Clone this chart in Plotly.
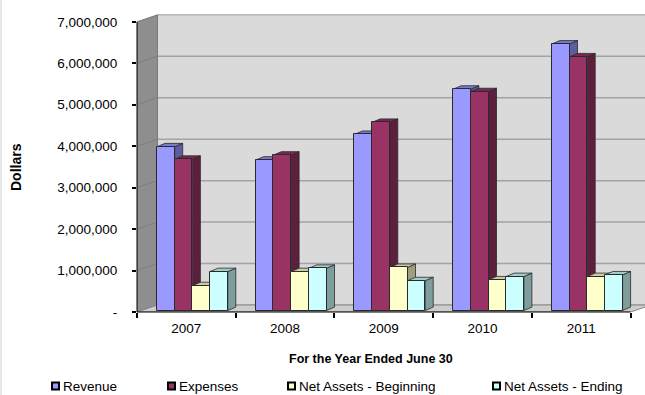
import plotly.graph_objects as go

# ---- data -----------------------------------------------------------------
years = ["2007", "2008", "2009", "2010", "2011"]
revenue = [3_950_000, 3_630_000, 4_250_000, 5_340_000, 6_430_000]
expenses = [3_650_000, 3_750_000, 4_540_000, 5_280_000, 6_120_000]
net_assets_beginning = [600_000, 940_000, 1_040_000, 740_000, 820_000]
net_assets_ending = [940_000, 1_020_000, 720_000, 820_000, 860_000]

series_names = ["Revenue", "Expenses", "Net Assets - Beginning", "Net Assets - Ending"]
series_values = [revenue, expenses, net_assets_beginning, net_assets_ending]
series_colors = ["#9999FF", "#993366", "#FFFFCC", "#CCFFFF"]

y_tick_values = [0, 1_000_000, 2_000_000, 3_000_000, 4_000_000, 5_000_000, 6_000_000, 7_000_000]
y_tick_labels = ["-", "1,000,000", "2,000,000", "3,000,000", "4,000,000",
                 "5,000,000", "6,000,000", "7,000,000"]

# ---- page geometry (pixels) ------------------------------------------------
FIG_W, FIG_H = 645, 395
PLOT_L, PLOT_T, PLOT_B = 137, 10, 312
CAT_PX = 98.7                 # width of one year slot
PX_PER_DOLLAR = 41.45 / 1e6   # vertical scale

x_range = [-0.5, -0.5 + (FIG_W - PLOT_L) / CAT_PX]
y_range = [0, (PLOT_B - PLOT_T) / PX_PER_DOLLAR]


def ux(px):
    return px / CAT_PX


def uy(px):
    return px / PX_PER_DOLLAR


def paper_x(px):
    return (px - PLOT_L) / (FIG_W - PLOT_L)


def paper_y(py):
    return (PLOT_B - py) / (PLOT_B - PLOT_T)


def shade(hex_color, f):
    h = hex_color.lstrip("#")
    r, g, b = (int(h[i:i + 2], 16) for i in (0, 2, 4))
    return "#%02x%02x%02x" % (int(r * f), int(g * f), int(b * f))


# pseudo-3D depth offsets
WDX, WDY = ux(20.5), uy(7)      # back wall behind the front axis
BDX, BDY = ux(8), uy(3.4)       # depth of each column
LIFT = uy(1.5)                  # columns stand slightly behind the front edge
GROUP_START = ux(20) - 0.5
BAR_W = ux(17.7)
N = len(years)
top_val = y_tick_values[-1]
x_far = x_range[1] + 0.5


def poly(pts):
    return "M" + " L".join(f"{x:.5f},{y:.2f}" for x, y in pts) + " Z"


shapes = []

# back wall
shapes.append(dict(type="path", xref="x", yref="y", layer="below",
                   path=poly([(-0.5 + WDX, WDY), (x_far, WDY), (x_far, top_val + WDY),
                              (-0.5 + WDX, top_val + WDY)]),
                   fillcolor="#dadada", line=dict(color="#9a9a9a", width=1)))
# back wall gridlines
for v in y_tick_values[1:-1]:
    shapes.append(dict(type="line", xref="x", yref="y", layer="below",
                       x0=-0.5 + WDX, x1=x_far, y0=v + WDY, y1=v + WDY,
                       line=dict(color="#a3a3a3", width=1.5)))
# left side wall
shapes.append(dict(type="path", xref="x", yref="y", layer="below",
                   path=poly([(-0.5, 0), (-0.5 + WDX, WDY), (-0.5 + WDX, top_val + WDY),
                              (-0.5, top_val)]),
                   fillcolor="#8e8e8e", line=dict(color="#7a7a7a", width=1)))
for v in y_tick_values[1:-1]:
    shapes.append(dict(type="line", xref="x", yref="y", layer="below",
                       x0=-0.5, x1=-0.5 + WDX, y0=v, y1=v + WDY,
                       line=dict(color="#7d7d7d", width=1)))
# floor
shapes.append(dict(type="path", xref="x", yref="y", layer="below",
                   path=poly([(-0.5, 0), (N - 0.5, 0), (N - 0.5 + WDX, WDY), (-0.5 + WDX, WDY)]),
                   fillcolor="#cdcdcd", line=dict(color="#858585", width=1)))

# column side and top faces, painted left to right
for i in range(N):
    for s, vals in enumerate(series_values):
        xl = i + GROUP_START + s * BAR_W
        xr = xl + BAR_W
        yb = LIFT
        yt = LIFT + vals[i]
        col = series_colors[s]
        shapes.append(dict(type="path", xref="x", yref="y", layer="below",
                           path=poly([(xr, yb), (xr + BDX, yb + BDY), (xr + BDX, yt + BDY), (xr, yt)]),
                           fillcolor=shade(col, 0.62), line=dict(color="#2a2a2a", width=0.8)))
        shapes.append(dict(type="path", xref="x", yref="y", layer="below",
                           path=poly([(xl, yt), (xr, yt), (xr + BDX, yt + BDY), (xl + BDX, yt + BDY)]),
                           fillcolor=shade(col, 0.8), line=dict(color="#2a2a2a", width=0.8)))

# front axis lines
shapes.append(dict(type="line", xref="paper", yref="y", layer="above",
                   x0=0, x1=0, y0=0, y1=top_val, line=dict(color="black", width=1)))
shapes.append(dict(type="line", xref="x", yref="paper", layer="above",
                   x0=-0.5, x1=N - 0.5, y0=0, y1=0, line=dict(color="black", width=1.2)))
# thin border at the left edge of the chart
shapes.append(dict(type="line", xref="paper", yref="paper", layer="above",
                   x0=paper_x(1), x1=paper_x(1), y0=paper_y(0), y1=paper_y(FIG_H),
                   line=dict(color="#d0d0d0", width=1)))

# ---- columns ---------------------------------------------------------------
fig = go.Figure()
x_idx = list(range(N))
for s, (name, vals, col) in enumerate(zip(series_names, series_values, series_colors)):
    fig.add_trace(go.Bar(
        x=x_idx, y=vals, base=LIFT, name=name,
        offset=GROUP_START + s * BAR_W, width=BAR_W,
        marker=dict(color=col, line=dict(color="#2a2a2a", width=1)),
        showlegend=False,
    ))

# ---- legend (drawn below the axis title) -----------------------------------
annotations = []
legend_left = [52, 168, 288, 493]
LEG_Y = 386
for name, col, lx in zip(series_names, series_colors, legend_left):
    shapes.append(dict(type="rect", xref="paper", yref="paper", layer="above",
                       x0=paper_x(lx), x1=paper_x(lx + 7),
                       y0=paper_y(LEG_Y + 3.5), y1=paper_y(LEG_Y - 3.5),
                       fillcolor=col, line=dict(color="black", width=2)))
    annotations.append(dict(xref="paper", yref="paper", x=paper_x(lx + 9), y=paper_y(LEG_Y),
                            xanchor="left", yanchor="middle", showarrow=False, text=name,
                            font=dict(size=13.5, color="black")))

annotations.append(dict(xref="paper", yref="paper", x=paper_x(371), y=paper_y(359),
                        xanchor="center", yanchor="middle", showarrow=False,
                        text="<b>For the Year Ended June 30</b>",
                        font=dict(size=12.5, color="black")))
annotations.append(dict(xref="paper", yref="paper", x=paper_x(16), y=paper_y(167),
                        xanchor="center", yanchor="middle", showarrow=False, textangle=-90,
                        text="<b>Dollars</b>", font=dict(size=14, color="black")))

fig.update_layout(
    width=FIG_W, height=FIG_H, autosize=False,
    margin=dict(l=PLOT_L, r=0, t=PLOT_T, b=FIG_H - PLOT_B, pad=0),
    paper_bgcolor="white", plot_bgcolor="white",
    font=dict(family="Liberation Sans, Arial, sans-serif", size=13.5, color="black"),
    barmode="overlay", bargap=0,
    shapes=shapes, annotations=annotations,
    xaxis=dict(range=x_range, tickmode="array", tickvals=x_idx, ticktext=years,
               ticks="", showgrid=False, zeroline=False, showline=False,
               automargin=False, ticklabelstandoff=6, tickfont=dict(size=13.5),
               minor=dict(tickmode="array", tickvals=[i - 0.5 for i in range(N + 1)],
                          ticks="outside", ticklen=5, tickwidth=1.5, tickcolor="black",
                          showgrid=False)),
    yaxis=dict(range=y_range, tickmode="array", tickvals=y_tick_values, ticktext=y_tick_labels,
               ticks="outside", ticklen=4, tickwidth=2, tickcolor="black",
               showgrid=False, zeroline=False, showline=False, automargin=False,
               ticklabelstandoff=12, tickfont=dict(size=13.5)),
)

fig.write_html("out.html")
